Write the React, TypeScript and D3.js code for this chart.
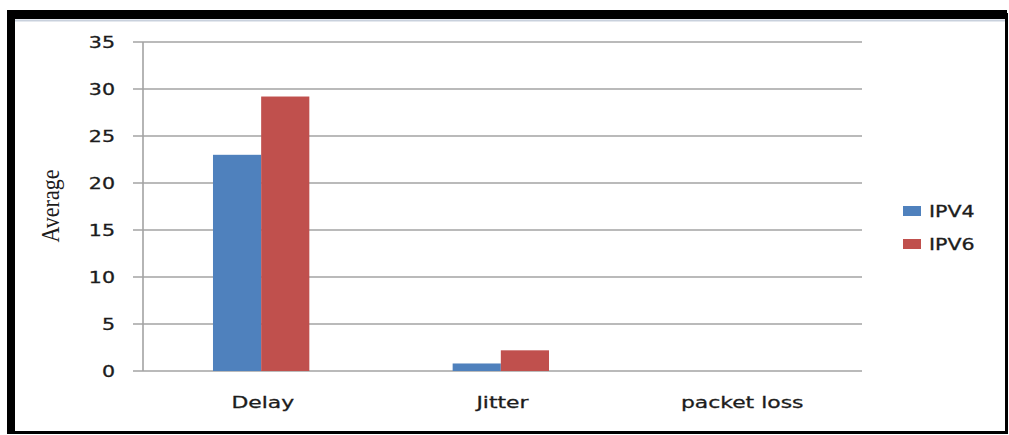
import React from "react";
import * as d3 from "d3";

const categories = ["Delay", "Jitter", "packet loss"];
const seriesNames = ["IPV4", "IPV6"];
const ipv4 = [23, 0.8, 0];
const ipv6 = [29.2, 2.2, 0];
const yTicks = [0, 5, 10, 15, 20, 25, 30, 35];
const colors = ["#4F81BD", "#C0504D"];

const width = 1009;
const height = 435;
const plot = { left: 143, right: 862, top: 42, bottom: 371 };
const stretch = 1.37;
const font = "'DejaVu Sans', Verdana, sans-serif";

// stretched text, the source image is widened horizontally
const Label = ({ x, y, anchor, size, children, fill = "#1c1c1c" }: any) => (
  <text
    transform={`translate(${x},${y}) scale(${stretch},1)`}
    textAnchor={anchor}
    fontFamily={font}
    fontSize={size}
    fill={fill}
    stroke={fill}
    strokeWidth={0.3}
  >
    {children}
  </text>
);

export default function App() {
  const x = d3
    .scaleBand<string>()
    .domain(categories)
    .range([plot.left, plot.right])
    .padding(0);
  const bw = x.bandwidth();
  const inner = d3
    .scaleBand<string>()
    .domain(seriesNames)
    .range([bw * 0.292, bw * 0.694]);
  const y = d3.scaleLinear().domain([0, 35]).range([plot.bottom, plot.top]);
  const series = [ipv4, ipv6];

  return (
    <svg
      width={width}
      height={height}
      style={{ position: "absolute", left: 0, top: 0, background: "#fff" }}
    >
      {/* outer frame */}
      <rect x={0} y={0} width={width} height={height} fill="#fff" />
      <line x1={15} x2={1005} y1={20.5} y2={20.5} stroke="#c9d1dd" strokeWidth={2} />
      <rect x={11} y={14.5} width={995.5} height={418} fill="none" stroke="#000" strokeWidth={3} />
      <rect x={7} y={10} width={8} height={424} fill="#000" />
      <rect x={7} y={10} width={1000} height={9} fill="#000" />

      {/* gridlines and ticks */}
      {yTicks.map((t) => (
        <g key={t}>
          <line
            x1={plot.left - 10}
            x2={plot.right}
            y1={y(t)}
            y2={y(t)}
            stroke="#a3a3a3"
            strokeWidth={1.6}
          />
          <Label x={115} y={y(t) + 5.5} anchor="end" size={15}>
            {t}
          </Label>
        </g>
      ))}
      <line
        x1={plot.left}
        x2={plot.left}
        y1={plot.top}
        y2={plot.bottom}
        stroke="#a3a3a3"
        strokeWidth={1.6}
      />

      {/* bars */}
      {categories.map((c, i) => (
        <g key={c} transform={`translate(${x(c)},0)`}>
          {seriesNames.map((s, j) => (
            <rect
              key={s}
              x={inner(s)}
              y={y(series[j][i])}
              width={inner.bandwidth()}
              height={y(0) - y(series[j][i])}
              fill={colors[j]}
            />
          ))}
          <Label x={bw / 2} y={408} anchor="middle" size={16}>
            {c}
          </Label>
        </g>
      ))}

      {/* y title */}
      <text
        transform="translate(59,206) rotate(-90)"
        textAnchor="middle"
        fontFamily="'Liberation Serif', 'Times New Roman', serif"
        fontSize={26}
        textLength={73}
        lengthAdjust="spacingAndGlyphs"
        fill="#1c1c1c"
      >
        Average
      </text>

      {/* legend */}
      {seriesNames.map((s, j) => (
        <g key={s} transform={`translate(903,${206 + j * 33})`}>
          <rect x={0} y={0} width={18} height={10} fill={colors[j]} />
          <Label x={26} y={10.5} anchor="start" size={15}>
            {s}
          </Label>
        </g>
      ))}
    </svg>
  );
}
